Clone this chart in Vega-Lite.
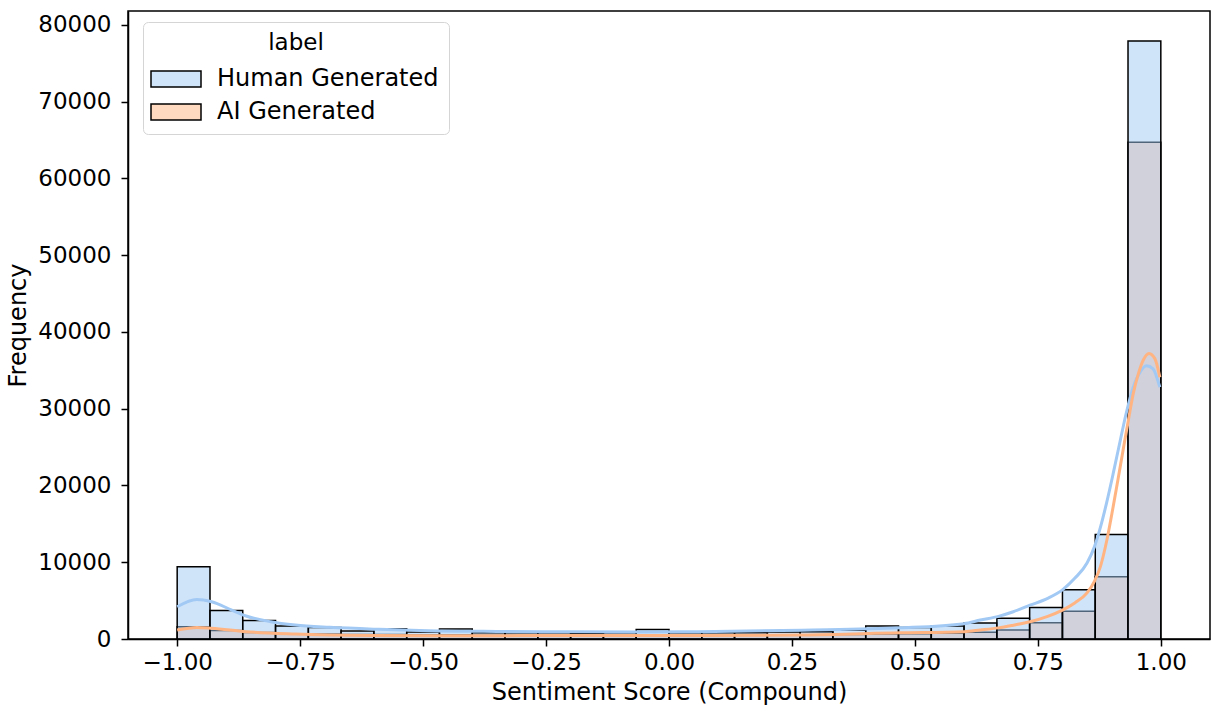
{
  "$schema": "https://vega.github.io/schema/vega-lite/v6.json",
  "autosize": "none",
  "width": 1082,
  "height": 628,
  "padding": {"left": 128, "top": 11, "right": 3, "bottom": 71},
  "background": "white",
  "config": {
    "font": "DejaVu Sans",
    "view": {"stroke": "black", "strokeWidth": 1.5},
    "legend": {"symbolStrokeColor": "black", "symbolStrokeWidth": 1.5},
    "axis": {
      "grid": false,
      "domainColor": "black",
      "domainWidth": 1.5,
      "tickColor": "black",
      "tickWidth": 1.5,
      "tickSize": 7,
      "labelFont": "DejaVu Sans",
      "labelFontSize": 23,
      "labelColor": "black",
      "titleFont": "DejaVu Sans",
      "titleFontSize": 24,
      "titleFontWeight": "normal",
      "titleColor": "black",
      "labelPadding": 5
    }
  },
  "datasets": {
    "bars": [
      {"label": "Human Generated", "bin_start": -1.0, "bin_end": -0.9333, "count": 9400},
      {"label": "Human Generated", "bin_start": -0.9333, "bin_end": -0.8667, "count": 3700},
      {"label": "Human Generated", "bin_start": -0.8667, "bin_end": -0.8, "count": 2400},
      {"label": "Human Generated", "bin_start": -0.8, "bin_end": -0.7333, "count": 1700},
      {"label": "Human Generated", "bin_start": -0.7333, "bin_end": -0.6667, "count": 1500},
      {"label": "Human Generated", "bin_start": -0.6667, "bin_end": -0.6, "count": 1050},
      {"label": "Human Generated", "bin_start": -0.6, "bin_end": -0.5333, "count": 1350},
      {"label": "Human Generated", "bin_start": -0.5333, "bin_end": -0.4667, "count": 900},
      {"label": "Human Generated", "bin_start": -0.4667, "bin_end": -0.4, "count": 1300},
      {"label": "Human Generated", "bin_start": -0.4, "bin_end": -0.3333, "count": 800},
      {"label": "Human Generated", "bin_start": -0.3333, "bin_end": -0.2667, "count": 800},
      {"label": "Human Generated", "bin_start": -0.2667, "bin_end": -0.2, "count": 800},
      {"label": "Human Generated", "bin_start": -0.2, "bin_end": -0.1333, "count": 750},
      {"label": "Human Generated", "bin_start": -0.1333, "bin_end": -0.0667, "count": 800},
      {"label": "Human Generated", "bin_start": -0.0667, "bin_end": 0.0, "count": 1250},
      {"label": "Human Generated", "bin_start": 0.0, "bin_end": 0.0667, "count": 800},
      {"label": "Human Generated", "bin_start": 0.0667, "bin_end": 0.1333, "count": 800},
      {"label": "Human Generated", "bin_start": 0.1333, "bin_end": 0.2, "count": 800},
      {"label": "Human Generated", "bin_start": 0.2, "bin_end": 0.2667, "count": 900},
      {"label": "Human Generated", "bin_start": 0.2667, "bin_end": 0.3333, "count": 950},
      {"label": "Human Generated", "bin_start": 0.3333, "bin_end": 0.4, "count": 1150},
      {"label": "Human Generated", "bin_start": 0.4, "bin_end": 0.4667, "count": 1700},
      {"label": "Human Generated", "bin_start": 0.4667, "bin_end": 0.5333, "count": 1500},
      {"label": "Human Generated", "bin_start": 0.5333, "bin_end": 0.6, "count": 1700},
      {"label": "Human Generated", "bin_start": 0.6, "bin_end": 0.6667, "count": 2100},
      {"label": "Human Generated", "bin_start": 0.6667, "bin_end": 0.7333, "count": 2700},
      {"label": "Human Generated", "bin_start": 0.7333, "bin_end": 0.8, "count": 4100},
      {"label": "Human Generated", "bin_start": 0.8, "bin_end": 0.8667, "count": 6400},
      {"label": "Human Generated", "bin_start": 0.8667, "bin_end": 0.9333, "count": 13600},
      {"label": "Human Generated", "bin_start": 0.9333, "bin_end": 1.0, "count": 77900},
      {"label": "AI Generated", "bin_start": -1.0, "bin_end": -0.9333, "count": 1600},
      {"label": "AI Generated", "bin_start": -0.9333, "bin_end": -0.8667, "count": 1100},
      {"label": "AI Generated", "bin_start": -0.8667, "bin_end": -0.8, "count": 850},
      {"label": "AI Generated", "bin_start": -0.8, "bin_end": -0.7333, "count": 700},
      {"label": "AI Generated", "bin_start": -0.7333, "bin_end": -0.6667, "count": 650},
      {"label": "AI Generated", "bin_start": -0.6667, "bin_end": -0.6, "count": 600},
      {"label": "AI Generated", "bin_start": -0.6, "bin_end": -0.5333, "count": 600},
      {"label": "AI Generated", "bin_start": -0.5333, "bin_end": -0.4667, "count": 550},
      {"label": "AI Generated", "bin_start": -0.4667, "bin_end": -0.4, "count": 550},
      {"label": "AI Generated", "bin_start": -0.4, "bin_end": -0.3333, "count": 500},
      {"label": "AI Generated", "bin_start": -0.3333, "bin_end": -0.2667, "count": 500},
      {"label": "AI Generated", "bin_start": -0.2667, "bin_end": -0.2, "count": 500},
      {"label": "AI Generated", "bin_start": -0.2, "bin_end": -0.1333, "count": 500},
      {"label": "AI Generated", "bin_start": -0.1333, "bin_end": -0.0667, "count": 500},
      {"label": "AI Generated", "bin_start": -0.0667, "bin_end": 0.0, "count": 500},
      {"label": "AI Generated", "bin_start": 0.0, "bin_end": 0.0667, "count": 500},
      {"label": "AI Generated", "bin_start": 0.0667, "bin_end": 0.1333, "count": 500},
      {"label": "AI Generated", "bin_start": 0.1333, "bin_end": 0.2, "count": 500},
      {"label": "AI Generated", "bin_start": 0.2, "bin_end": 0.2667, "count": 550},
      {"label": "AI Generated", "bin_start": 0.2667, "bin_end": 0.3333, "count": 550},
      {"label": "AI Generated", "bin_start": 0.3333, "bin_end": 0.4, "count": 600},
      {"label": "AI Generated", "bin_start": 0.4, "bin_end": 0.4667, "count": 650},
      {"label": "AI Generated", "bin_start": 0.4667, "bin_end": 0.5333, "count": 700},
      {"label": "AI Generated", "bin_start": 0.5333, "bin_end": 0.6, "count": 750},
      {"label": "AI Generated", "bin_start": 0.6, "bin_end": 0.6667, "count": 870},
      {"label": "AI Generated", "bin_start": 0.6667, "bin_end": 0.7333, "count": 1170},
      {"label": "AI Generated", "bin_start": 0.7333, "bin_end": 0.8, "count": 2120},
      {"label": "AI Generated", "bin_start": 0.8, "bin_end": 0.8667, "count": 3600},
      {"label": "AI Generated", "bin_start": 0.8667, "bin_end": 0.9333, "count": 8100},
      {"label": "AI Generated", "bin_start": 0.9333, "bin_end": 1.0, "count": 64700}
    ],
    "kde": [
      {"label": "Human Generated", "score": -1.0, "density": 4200},
      {"label": "Human Generated", "score": -0.96, "density": 5150},
      {"label": "Human Generated", "score": -0.93, "density": 4850},
      {"label": "Human Generated", "score": -0.89, "density": 3800},
      {"label": "Human Generated", "score": -0.86, "density": 3000},
      {"label": "Human Generated", "score": -0.81, "density": 2250},
      {"label": "Human Generated", "score": -0.76, "density": 1820},
      {"label": "Human Generated", "score": -0.69, "density": 1520},
      {"label": "Human Generated", "score": -0.59, "density": 1260},
      {"label": "Human Generated", "score": -0.49, "density": 1080},
      {"label": "Human Generated", "score": -0.35, "density": 980},
      {"label": "Human Generated", "score": -0.2, "density": 930},
      {"label": "Human Generated", "score": -0.05, "density": 910},
      {"label": "Human Generated", "score": 0.06, "density": 950},
      {"label": "Human Generated", "score": 0.27, "density": 1150},
      {"label": "Human Generated", "score": 0.47, "density": 1450},
      {"label": "Human Generated", "score": 0.6, "density": 2000},
      {"label": "Human Generated", "score": 0.633, "density": 2470},
      {"label": "Human Generated", "score": 0.67, "density": 2950},
      {"label": "Human Generated", "score": 0.70, "density": 3550},
      {"label": "Human Generated", "score": 0.734, "density": 4400},
      {"label": "Human Generated", "score": 0.77, "density": 5300},
      {"label": "Human Generated", "score": 0.80, "density": 6400},
      {"label": "Human Generated", "score": 0.825, "density": 7900},
      {"label": "Human Generated", "score": 0.85, "density": 9900},
      {"label": "Human Generated", "score": 0.865, "density": 12000},
      {"label": "Human Generated", "score": 0.877, "density": 14500},
      {"label": "Human Generated", "score": 0.89, "density": 17800},
      {"label": "Human Generated", "score": 0.903, "density": 21500},
      {"label": "Human Generated", "score": 0.917, "density": 25700},
      {"label": "Human Generated", "score": 0.93, "density": 29500},
      {"label": "Human Generated", "score": 0.944, "density": 32800},
      {"label": "Human Generated", "score": 0.958, "density": 34800},
      {"label": "Human Generated", "score": 0.971, "density": 35600},
      {"label": "Human Generated", "score": 0.984, "density": 35200},
      {"label": "Human Generated", "score": 0.998, "density": 32800},
      {"label": "AI Generated", "score": -1.0, "density": 1170},
      {"label": "AI Generated", "score": -0.96, "density": 1500},
      {"label": "AI Generated", "score": -0.93, "density": 1400},
      {"label": "AI Generated", "score": -0.86, "density": 950},
      {"label": "AI Generated", "score": -0.76, "density": 650},
      {"label": "AI Generated", "score": -0.6, "density": 460},
      {"label": "AI Generated", "score": -0.45, "density": 420},
      {"label": "AI Generated", "score": -0.3, "density": 440},
      {"label": "AI Generated", "score": 0.0, "density": 450},
      {"label": "AI Generated", "score": 0.27, "density": 530},
      {"label": "AI Generated", "score": 0.47, "density": 800},
      {"label": "AI Generated", "score": 0.6, "density": 950},
      {"label": "AI Generated", "score": 0.633, "density": 1170},
      {"label": "AI Generated", "score": 0.67, "density": 1450},
      {"label": "AI Generated", "score": 0.70, "density": 1800},
      {"label": "AI Generated", "score": 0.734, "density": 2250},
      {"label": "AI Generated", "score": 0.77, "density": 2950},
      {"label": "AI Generated", "score": 0.80, "density": 3770},
      {"label": "AI Generated", "score": 0.825, "density": 4700},
      {"label": "AI Generated", "score": 0.85, "density": 6000},
      {"label": "AI Generated", "score": 0.865, "density": 7500},
      {"label": "AI Generated", "score": 0.877, "density": 9400},
      {"label": "AI Generated", "score": 0.89, "density": 12800},
      {"label": "AI Generated", "score": 0.903, "density": 17200},
      {"label": "AI Generated", "score": 0.913, "density": 20800},
      {"label": "AI Generated", "score": 0.923, "density": 24500},
      {"label": "AI Generated", "score": 0.934, "density": 28500},
      {"label": "AI Generated", "score": 0.944, "density": 32000},
      {"label": "AI Generated", "score": 0.955, "density": 34700},
      {"label": "AI Generated", "score": 0.964, "density": 36300},
      {"label": "AI Generated", "score": 0.976, "density": 37200},
      {"label": "AI Generated", "score": 0.988, "density": 36500},
      {"label": "AI Generated", "score": 0.998, "density": 34100}
    ]
  },
  "layer": [
    {
      "data": {"name": "bars"},
      "transform": [{"filter": "datum.label === 'AI Generated'"}],
      "mark": {"type": "bar", "fillOpacity": 0.5, "stroke": "black", "strokeWidth": 1.5},
      "encoding": {
        "x": {"field": "bin_start", "type": "quantitative", "scale": {"domain": [-1.1, 1.1], "nice": false, "zero": false},
          "axis": {"values": [-1, -0.75, -0.5, -0.25, 0, 0.25, 0.5, 0.75, 1], "format": ".2f", "title": "Sentiment Score (Compound)", "titlePadding": 6}},
        "x2": {"field": "bin_end"},
        "y": {"field": "count", "type": "quantitative", "scale": {"domain": [0, 81800], "nice": false},
          "axis": {"values": [0, 10000, 20000, 30000, 40000, 50000, 60000, 70000, 80000], "format": "d", "title": "Frequency", "titlePadding": 7, "labelPadding": 10}},
        "y2": {"datum": 0},
        "fill": {"field": "label", "type": "nominal",
          "scale": {"domain": ["Human Generated", "AI Generated"], "range": ["#a1c9f4", "#ffb482"]},
          "legend": {
            "orient": "none", "legendX": 15, "legendY": 11,
            "title": "label", "titleFontSize": 23, "titleFontWeight": "normal", "titleColor": "black", "titleAnchor": "middle", "titlePadding": 12,
            "labelFontSize": 24, "labelColor": "black", "labelOffset": 29, "labelLimit": 0,
            "symbolType": "M-3.125,-1H3.125V1H-3.125Z", "symbolSize": 256, "symbolOffset": 11,
            "symbolStrokeColor": "black", "symbolStrokeWidth": 1.5,
            "rowPadding": 9, "padding": 10,
            "fillColor": "white", "strokeColor": "#d5d5d5", "cornerRadius": 5,
            "encode": {"symbols": {"update": {"stroke": {"value": "black"}, "strokeOpacity": {"value": 1}, "fillOpacity": {"value": 0.5}}}}
          }}
      }
    },
    {
      "data": {"name": "bars"},
      "transform": [{"filter": "datum.label === 'Human Generated'"}],
      "mark": {"type": "bar", "fillOpacity": 0.5, "stroke": "black", "strokeWidth": 1.5},
      "encoding": {
        "x": {"field": "bin_start", "type": "quantitative"},
        "x2": {"field": "bin_end"},
        "y": {"field": "count", "type": "quantitative"},
        "y2": {"datum": 0},
        "fill": {"field": "label", "type": "nominal"}
      }
    },
    {
      "data": {"name": "kde"},
      "mark": {"type": "line", "strokeWidth": 3, "interpolate": "monotone"},
      "encoding": {
        "x": {"field": "score", "type": "quantitative"},
        "y": {"field": "density", "type": "quantitative"},
        "stroke": {"condition": {"test": "datum.label === 'AI Generated'", "value": "#ffb482"}, "value": "#a1c9f4"},
        "order": {"field": "score"},
        "detail": {"field": "label"}
      }
    }
  ]
}
